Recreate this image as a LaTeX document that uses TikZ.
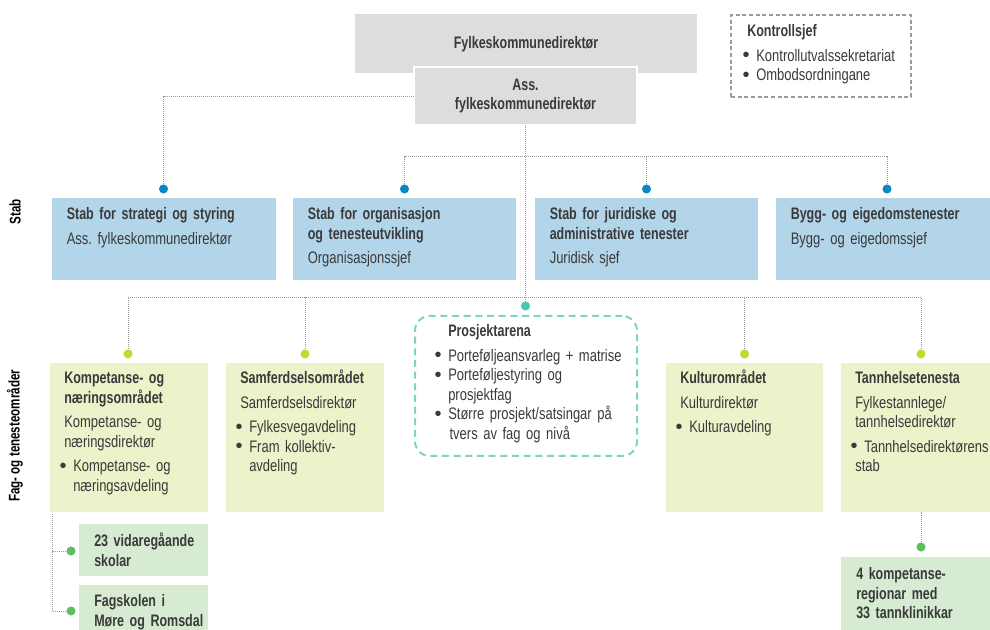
\documentclass[tikz,border=0pt]{standalone}
\usepackage{fontspec}
\setmainfont{Liberation Sans}[FakeStretch=0.78,BoldFeatures={FakeStretch=0.75}]
\newfontface\bulletfont{Liberation Sans}
\usetikzlibrary{positioning}

\definecolor{ink}{HTML}{3A3A3A}
\definecolor{topgray}{HTML}{DCDDDE}
\definecolor{stabblue}{HTML}{B3D5EA}
\definecolor{fagyellow}{HTML}{EDF2CB}
\definecolor{leafgreen}{HTML}{D7EBD2}
\definecolor{dotblue}{HTML}{0A87C5}
\definecolor{dotlime}{HTML}{C3D930}
\definecolor{dotteal}{HTML}{4EC5B0}
\definecolor{dotgreen}{HTML}{5CBF5C}
\definecolor{arenateal}{HTML}{7DD3C4}
\definecolor{linegray}{HTML}{9B9B9B}

\newcommand\itm[1][6.75pt]{\hspace*{#1}\llap{{\bulletfont\fontsize{15}{15}\selectfont\raisebox{-0.4pt}{\textbullet}}\hspace{5pt}}}
\newcommand\cnt[1][6.75pt]{\hspace*{#1}}

\begin{document}
\frenchspacing
\fontsize{12.5}{14.6}\selectfont
\begin{tikzpicture}[x=0.75pt,y=-0.75pt,text=ink,
    box/.style={anchor=north west,inner sep=0pt,outer sep=0pt},
    txt/.style={anchor=base west,inner sep=0pt,align=left,text width=220pt},
    side/.style={rotate=90,text=black,font=\fontsize{11.6}{13}\selectfont\bfseries},
    conn/.style={draw=linegray,line width=0.7pt,dash pattern=on 0.6pt off 0.9pt},
    dot/.style={circle,fill=#1,inner sep=0pt,minimum size=6.8pt}]
    \useasboundingbox (0,0) rectangle (990,630);

    % leiinga
    \node[box,fill=topgray,minimum width=256.5pt,minimum height=44.25pt,font=\bfseries,
        text depth=1.5pt]
        (dir) at (355,14) {Fylkeskommunedirektør};
    \node[box,fill=topgray,draw=white,line width=1.5pt,minimum width=167.25pt,
        minimum height=43.5pt,align=center,font=\bfseries]
        (ass) at (414,67) {Ass.\\fylkeskommunedirektør};
    \node[box,draw=linegray,line width=0.8pt,dash pattern=on 3pt off 2pt,
        minimum width=135pt,minimum height=61.5pt] (kontroll) at (731,15) {};
    \node[txt] (kontrollt) at ([shift={(16,22)}]kontroll.north west)
        {\textbf{Kontrollsjef}\\[3.75pt]\itm Kontrollutvalssekretariat\\\itm Ombodsordningane};

    % stab
    \node[side] (stablbl) at (15,212) {Stab};
    \node[box,fill=stabblue,minimum width=168pt,minimum height=61.5pt] (s1) at (52,198) {};
    \node[box,fill=stabblue,minimum width=167.25pt,minimum height=61.5pt] (s2) at (293,198) {};
    \node[box,fill=stabblue,minimum width=167.25pt,minimum height=61.5pt] (s3) at (535,198) {};
    \node[box,fill=stabblue,minimum width=168pt,minimum height=61.5pt] (s4) at (776,198) {};
    \node[txt] (s1t) at ([shift={(14.5,22)}]s1.north west)
        {\textbf{Stab for strategi og styring}\\[3.75pt]Ass. fylkeskommunedirektør};
    \node[txt] (s2t) at ([shift={(14.5,22)}]s2.north west)
        {\textbf{Stab for organisasjon}\\\textbf{og tenesteutvikling}\\[3.75pt]Organisasjonssjef};
    \node[txt] (s3t) at ([shift={(14.5,22)}]s3.north west)
        {\textbf{Stab for juridiske og}\\\textbf{administrative tenester}\\[3.75pt]Juridisk sjef};
    \node[txt] (s4t) at ([shift={(14.5,22)}]s4.north west)
        {\textbf{Bygg- og eigedomstenester}\\[3.75pt]Bygg- og eigedomssjef};

    % fag- og tenesteomraade
    \node[side,anchor=east] (faglbl) at (15,364) {Fag- og tenesteområder};
    \node[box,fill=fagyellow,minimum width=118.5pt,minimum height=111.75pt] (f1) at (50,363) {};
    \node[box,fill=fagyellow,minimum width=118.5pt,minimum height=111.75pt] (f2) at (226,363) {};
    \node[box,fill=fagyellow,minimum width=117.75pt,minimum height=111.75pt] (f3) at (666,363) {};
    \node[box,fill=fagyellow,minimum width=120pt,minimum height=111.75pt] (f4) at (841,363) {};
    \node[txt] (f1t) at ([shift={(14,21)}]f1.north west)
        {\textbf{Kompetanse- og}\\\textbf{næringsområdet}\\[3.75pt]Kompetanse- og\\næringsdirektør\\[3.75pt]\itm Kompetanse- og\\\cnt næringsavdeling};
    \node[txt] (f2t) at ([shift={(14,21)}]f2.north west)
        {\textbf{Samferdselsområdet}\\[3.75pt]Samferdselsdirektør\\[3.75pt]\itm Fylkesvegavdeling\\\itm Fram kollektiv-\\\cnt avdeling};
    \node[txt] (f3t) at ([shift={(14,21)}]f3.north west)
        {\textbf{Kulturområdet}\\[3.75pt]Kulturdirektør\\[3.75pt]\itm Kulturavdeling};
    \node[txt] (f4t) at ([shift={(14,21)}]f4.north west)
        {\textbf{Tannhelsetenesta}\\[3.75pt]Fylkestannlege/\\tannhelsedirektør\\[3.75pt]\itm Tannhelsedirektørens\\stab};

    \node[box,draw=arenateal,line width=1.5pt,dash pattern=on 5.25pt off 3.5pt,rounded corners=11pt,
        minimum width=166.5pt,minimum height=105pt] (arena) at (415,316) {};
    \node[txt] (arenat) at ([shift={(33,21)}]arena.north west)
        {\textbf{Prosjektarena}\\[3.75pt]\itm[0pt]Porteføljeansvarleg + matrise\\\itm[0pt]Porteføljestyring og\\prosjektfag\\\itm[0pt]Større prosjekt/satsingar på\\\cnt[1pt]tvers av fag og nivå};

    % einingar
    \node[box,fill=leafgreen,minimum width=96.75pt,minimum height=39pt] (g1) at (79,524) {};
    \node[box,fill=leafgreen,minimum width=96.75pt,minimum height=40pt] (g2) at (79,585) {};
    \node[box,fill=leafgreen,minimum width=120pt,minimum height=60pt] (g3) at (841,557) {};
    \node[txt] (g1t) at ([shift={(15,23)}]g1.north west) {\textbf{23 vidaregåande}\\\textbf{skolar}};
    \node[txt] (g2t) at ([shift={(15,22)}]g2.north west) {\textbf{Fagskolen i}\\\textbf{Møre og Romsdal}};
    \node[txt] (g3t) at ([shift={(15,23)}]g3.north west) {\textbf{4 kompetanse-}\\\textbf{regionar med}\\\textbf{33 tannklinikkar}};

    % prikkar
    \node[dot=dotblue] (b1) at (163.5,189) {};
    \node[dot=dotblue] (b2) at (404.5,189) {};
    \node[dot=dotblue] (b3) at (646.5,189) {};
    \node[dot=dotblue] (b4) at (887,189) {};
    \node[dot=dotteal] (t1) at (525.5,306) {};
    \node[dot=dotlime] (l1) at (128,354) {};
    \node[dot=dotlime] (l2) at (305,354) {};
    \node[dot=dotlime] (l3) at (744.5,354) {};
    \node[dot=dotlime] (l4) at (921,354) {};
    \node[dot=dotgreen] (e1) at (71,551) {};
    \node[dot=dotgreen] (e2) at (71,611) {};
    \node[dot=dotgreen] (e3) at (921,547) {};

    \coordinate (stabbar) at (525.5,156);
    \coordinate (fagbar) at (525.5,297);
    \coordinate (skolebar) at (52,514);

    \draw[conn] (ass.west) -| (b1);
    \draw[conn] (ass.south) -- (t1);
    \draw[conn] (b2) |- (stabbar) -| (b4);
    \draw[conn] (b3) -- (b3 |- stabbar);
    \draw[conn] (l1) |- (fagbar) -| (l4);
    \draw[conn] (l2) -- (l2 |- fagbar);
    \draw[conn] (l3) -- (l3 |- fagbar);
    \draw[conn] (skolebar) |- (e2);
    \draw[conn] (e1) -- (e1 -| skolebar);
    \draw[conn] (e3) -- (e3 |- f4.south);
\end{tikzpicture}
\end{document}
